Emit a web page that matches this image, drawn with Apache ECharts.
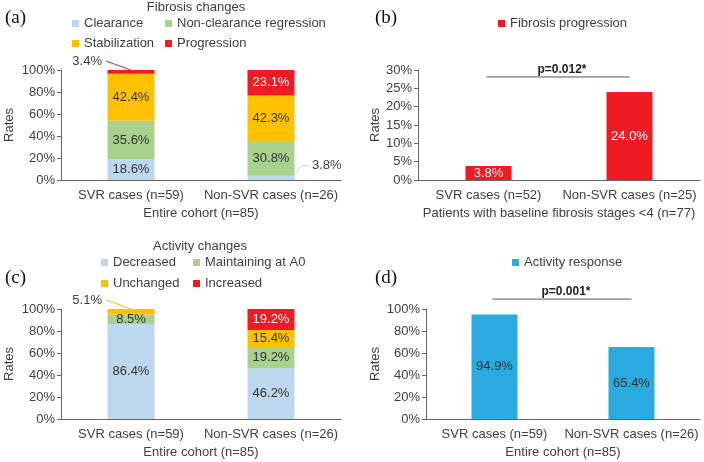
<!DOCTYPE html>
<html>
<head>
<meta charset="utf-8">
<script src="https://cdn.jsdelivr.net/npm/echarts@6/dist/echarts.min.js"></script>
<style>
  html, body { margin: 0; padding: 0; background: #fff; }
  #main { width: 704px; height: 462px; }
</style>
</head>
<body>
<div id="main"></div>
<script>
// data, in percent
var cohortCats = ['SVR cases (n=59)', 'Non-SVR cases (n=26)'];
var stageCats = ['SVR cases (n=52)', 'Non-SVR cases (n=25)'];

var fibrosisNames = ['Clearance', 'Non-clearance regression', 'Stabilization', 'Progression'];
var clearance = [18.6, 3.8];
var nonClearanceRegression = [35.6, 30.8];
var stabilization = [42.4, 42.3];
var progression = [3.4, 23.1];

var fibrosisProgression = [3.8, 24.0];

var activityNames = ['Decreased', 'Maintaining at A0', 'Unchanged', 'Increased'];
var decreased = [86.4, 46.2];
var maintainingA0 = [8.5, 19.2];
var unchanged = [5.1, 15.4];
var increased = [0, 19.2];

var activityResponse = [94.9, 65.4];

var pValues = ['p=0.012*', 'p=0.001*'];
var pLevels = [28.1, 109];   // height of the bracket, in axis units

var C_BLUE = '#bdd7ee', C_GREEN = '#a9d18e', C_YELLOW = '#ffc000', C_RED = '#ed1c24', C_CYAN = '#29abe2';
var FONT = "'Liberation Sans', Arial, sans-serif";
var TXT = '#404040';
var AXIS = '#666';

var chart = echarts.init(document.getElementById('main'));

var grids = [
  { left: 61, top: 70, width: 280, height: 110 },
  { left: 418, top: 70, width: 282, height: 110 },
  { left: 61, top: 309, width: 280, height: 110 },
  { left: 426, top: 309, width: 274, height: 110 }
];

function xAxis(i, cats, name) {
  return {
    type: 'category', gridIndex: i, data: cats,
    name: name, nameLocation: 'middle', nameGap: 27,
    nameTextStyle: { color: TXT, fontSize: 13, fontFamily: FONT },
    axisLine: { lineStyle: { color: AXIS } },
    axisTick: { inside: true, length: 4, lineStyle: { color: AXIS } },
    axisLabel: { color: TXT, fontSize: 13, fontFamily: FONT, margin: 9, interval: 0 }
  };
}
function yAxis(i, max, step, gap) {
  return {
    type: 'value', gridIndex: i, min: 0, max: max, interval: step,
    name: 'Rates', nameLocation: 'middle', nameGap: gap,
    nameTextStyle: { color: TXT, fontSize: 13, fontFamily: FONT },
    axisLine: { show: true, lineStyle: { color: AXIS } },
    axisTick: { show: true, length: 4, lineStyle: { color: AXIS } },
    splitLine: { show: false },
    axisLabel: { color: TXT, fontSize: 13, fontFamily: FONT, margin: 6, formatter: '{value}%' }
  };
}

// stacked bars: tiny segments get an outside label drawn later
function stackSeries(name, vals, color, idx, stack, textColor) {
  return {
    name: name, type: 'bar', stack: stack, xAxisIndex: idx, yAxisIndex: idx,
    barWidth: 47, itemStyle: { color: color },
    data: vals.map(function (v) {
      return { value: v, label: { show: v >= 6 } };
    }),
    label: {
      position: 'inside', color: textColor, fontSize: 13, fontFamily: FONT,
      formatter: function (p) { return p.value.toFixed(1) + '%'; }
    }
  };
}
function plainSeries(name, vals, color, idx, textColor) {
  return {
    name: name, type: 'bar', xAxisIndex: idx, yAxisIndex: idx,
    barWidth: 46, itemStyle: { color: color }, data: vals,
    label: {
      show: true, position: 'inside', color: textColor, fontSize: 13, fontFamily: FONT,
      formatter: function (p) { return p.value.toFixed(1) + '%'; }
    }
  };
}

function legendAt(name, left, top) {
  return {
    data: [name], left: left, top: top, padding: 0,
    itemWidth: 7, itemHeight: 7, icon: 'rect', selectedMode: false,
    textStyle: { color: TXT, fontSize: 13, fontFamily: FONT }
  };
}

var option = {
  animation: false,
  title: [
    { text: 'Fibrosis changes', left: 196, top: 1, textAlign: 'center', padding: 0,
      textStyle: { fontWeight: 'normal', fontSize: 13, color: TXT, fontFamily: FONT } },
    { text: 'Activity changes', left: 200, top: 240, textAlign: 'center', padding: 0,
      textStyle: { fontWeight: 'normal', fontSize: 13, color: TXT, fontFamily: FONT } }
  ],
  legend: [
    legendAt('Clearance', 72, 17),
    legendAt('Non-clearance regression', 165, 17),
    legendAt('Stabilization', 72, 37),
    legendAt('Progression', 165, 37),
    legendAt('Fibrosis progression', 498, 17),
    legendAt('Decreased', 101, 256),
    legendAt('Maintaining at A0', 193, 256),
    legendAt('Unchanged', 101, 277),
    legendAt('Increased', 193, 277),
    legendAt('Activity response', 512, 256)
  ],
  grid: grids,
  xAxis: [
    xAxis(0, cohortCats, 'Entire cohort (n=85)'),
    xAxis(1, stageCats, 'Patients with baseline fibrosis stages <4 (n=77)'),
    xAxis(2, cohortCats, 'Entire cohort (n=85)'),
    xAxis(3, cohortCats, 'Entire cohort (n=85)')
  ],
  yAxis: [
    yAxis(0, 100, 20, 45),
    yAxis(1, 30, 5, 36),
    yAxis(2, 100, 20, 45),
    yAxis(3, 100, 20, 44)
  ],
  series: [
    stackSeries(fibrosisNames[0], clearance, C_BLUE, 0, 'a', '#333'),
    stackSeries(fibrosisNames[1], nonClearanceRegression, C_GREEN, 0, 'a', '#333'),
    stackSeries(fibrosisNames[2], stabilization, C_YELLOW, 0, 'a', '#333'),
    stackSeries(fibrosisNames[3], progression, C_RED, 0, 'a', '#fff'),
    plainSeries('Fibrosis progression', fibrosisProgression, C_RED, 1, '#fff'),
    stackSeries(activityNames[0], decreased, C_BLUE, 2, 'c', '#333'),
    stackSeries(activityNames[1], maintainingA0, C_GREEN, 2, 'c', '#333'),
    stackSeries(activityNames[2], unchanged, C_YELLOW, 2, 'c', '#333'),
    stackSeries(activityNames[3], increased, C_RED, 2, 'c', '#fff'),
    plainSeries('Activity response', activityResponse, C_CYAN, 3, '#333')
  ]
};
chart.setOption(option);

// annotations placed through the axes
var g = [];
function px(i, cat, v) {
  return chart.convertToPixel({ xAxisIndex: i, yAxisIndex: i }, [cat, v]);
}
function outsideLabels(idx, stacks) {
  for (var cat = 0; cat < 2; cat++) {
    var top = 0;
    stacks.forEach(function (s) {
      var v = s.vals[cat];
      top += v;
      if (v > 0 && v < 6) {
        var p = px(idx, cat, top);
        var pts, tx, align;
        if (cat === 0) {
          pts = [[p[0] - 25, p[1] - 9], [p[0], p[1]]];
          tx = p[0] - 29; align = 'right';
        } else {
          var x0 = p[0] + 23;
          pts = [[x0, p[1]], [x0 + 7, p[1] - 10], [x0 + 15, p[1] - 10]];
          tx = x0 + 18; align = 'left';
        }
        g.push({ type: 'polyline', shape: { points: pts }, style: { stroke: s.color, lineWidth: 1, fill: null } });
        g.push({ type: 'text', x: tx, y: pts[0][1] + (cat === 0 ? 0 : -10),
          style: { text: v.toFixed(1) + '%', fill: TXT, fontSize: 13, fontFamily: FONT, align: align, verticalAlign: 'middle' } });
      }
    });
  }
}
outsideLabels(0, [
  { vals: clearance, color: C_BLUE }, { vals: nonClearanceRegression, color: C_GREEN },
  { vals: stabilization, color: C_YELLOW }, { vals: progression, color: C_RED }
]);
outsideLabels(2, [
  { vals: decreased, color: C_BLUE }, { vals: maintainingA0, color: C_GREEN },
  { vals: unchanged, color: C_YELLOW }, { vals: increased, color: C_RED }
]);

[1, 3].forEach(function (idx, k) {
  var a = px(idx, 0, pLevels[k]);
  var b = px(idx, 1, pLevels[k]);
  g.push({ type: 'line', shape: { x1: a[0] - 2, y1: a[1], x2: b[0], y2: b[1] }, style: { stroke: '#555', lineWidth: 1 } });
  g.push({ type: 'text', x: (a[0] + b[0]) / 2 + 3, y: a[1] - 7,
    style: { text: pValues[k], fill: '#222', fontSize: 12, fontWeight: 'bold', fontFamily: FONT, align: 'center', verticalAlign: 'middle' } });
});

var letters = [['(a)', 5, 18], ['(b)', 375, 18], ['(c)', 5, 278], ['(d)', 375, 278]];
letters.forEach(function (l) {
  g.push({ type: 'text', x: l[1], y: l[2],
    style: { text: l[0], fill: '#111', fontSize: 19, fontFamily: "'Liberation Serif', 'DejaVu Serif', serif", verticalAlign: 'middle' } });
});

chart.setOption({ graphic: g });
</script>
</body>
</html>
